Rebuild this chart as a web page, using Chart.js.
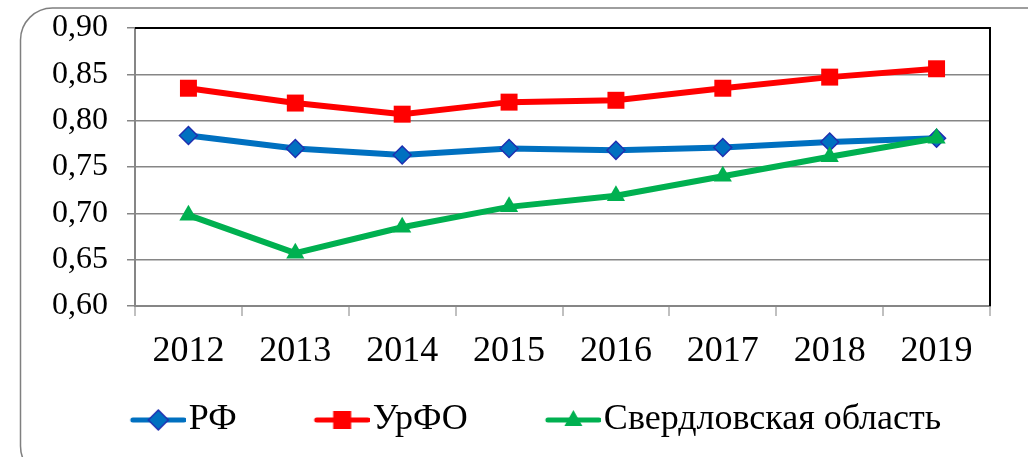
<!DOCTYPE html>
<html>
<head>
<meta charset="utf-8">
<script src="https://cdn.jsdelivr.net/npm/chart.js@4/dist/chart.umd.min.js"></script>
<style>
  html, body { margin: 0; padding: 0; background: #fff; }
  #wrap { width: 1028px; height: 457px; }
</style>
</head>
<body>
<div id="wrap"><canvas id="myChart" width="1028" height="457"></canvas></div>
<script>
// data
const years = ['2012', '2013', '2014', '2015', '2016', '2017', '2018', '2019'];
const rfValues = [0.784, 0.770, 0.763, 0.770, 0.768, 0.771, 0.777, 0.781];
const urfoValues = [0.835, 0.819, 0.807, 0.820, 0.822, 0.835, 0.847, 0.856];
const sverdValues = [0.698, 0.657, 0.685, 0.707, 0.719, 0.740, 0.761, 0.781];
const seriesNames = ['РФ', 'УрФО', 'Свердловская область'];
const yTicks = [0.60, 0.65, 0.70, 0.75, 0.80, 0.85, 0.90];

const BLUE = '#0070C0', RED = '#FF0000', GREEN = '#00B050';
const FONT = '"Liberation Serif", serif';

// legend glyph: line with marker, like the office legend
function legendIcon(color, marker) {
    const w = 108, h = 26;
    const c = document.createElement('canvas');
    c.width = w; c.height = h;
    const g = c.getContext('2d');
    const x0 = w - 55, x1 = w - 2, cy = h / 2;
    g.strokeStyle = color;
    g.lineWidth = 5;
    g.lineCap = 'round';
    g.beginPath(); g.moveTo(x0 + 2, cy); g.lineTo(x1, cy); g.stroke();
    const mx = (x0 + x1) / 2 + 1;
    g.fillStyle = color;
    if (marker === 'diamond') {
        g.beginPath();
        g.moveTo(mx, cy - 10); g.lineTo(mx + 10, cy); g.lineTo(mx, cy + 10); g.lineTo(mx - 10, cy);
        g.closePath(); g.fill();
        g.strokeStyle = '#1f2fb0'; g.lineWidth = 1.5; g.stroke();
    } else if (marker === 'square') {
        g.fillRect(mx - 9, cy - 9, 18, 18);
    } else {
        g.beginPath();
        g.moveTo(mx, cy - 10); g.lineTo(mx + 9, cy + 6); g.lineTo(mx - 9, cy + 6);
        g.closePath(); g.fill();
    }
    return c;
}

const framePlugin = {
    id: 'frame',
    beforeDraw(chart) {
        const ctx = chart.ctx;
        ctx.save();
        ctx.strokeStyle = '#7f7f7f';
        ctx.lineWidth = 1.5;
        ctx.beginPath();
        ctx.roundRect(20.5, 8, 1060, 470, 32);
        ctx.stroke();
        ctx.restore();
    },
    afterDatasetsDraw(chart) {
        // black top and right edges of the plot area
        const a = chart.chartArea, ctx = chart.ctx;
        ctx.save();
        ctx.strokeStyle = '#000';
        ctx.lineWidth = 2;
        ctx.beginPath();
        ctx.moveTo(a.left, a.top); ctx.lineTo(a.right, a.top); ctx.lineTo(a.right, a.bottom);
        ctx.stroke();
        ctx.restore();
    }
};

function buildChart() {
    Chart.defaults.font.family = FONT;
    Chart.defaults.color = '#000';
    const icons = [legendIcon(BLUE, 'diamond'), legendIcon(RED, 'square'), legendIcon(GREEN, 'triangle')];

    const ctx = document.getElementById('myChart').getContext('2d');
    window.myLineChart = new Chart(ctx, {
        type: 'line',
        data: {
            labels: years,
            datasets: [
                {
                    label: seriesNames[0], data: rfValues, order: 2,
                    borderColor: BLUE, borderWidth: 6, backgroundColor: BLUE,
                    pointStyle: 'rectRot', pointRadius: 9, pointBorderColor: '#1f2fb0', pointBorderWidth: 1.5,
                    pointBackgroundColor: BLUE, tension: 0
                },
                {
                    label: seriesNames[1], data: urfoValues, order: 1,
                    borderColor: RED, borderWidth: 6, backgroundColor: RED,
                    pointStyle: 'rect', pointRadius: 12, pointBorderWidth: 0,
                    pointBackgroundColor: RED, tension: 0
                },
                {
                    label: seriesNames[2], data: sverdValues, order: 0,
                    borderColor: GREEN, borderWidth: 6, backgroundColor: GREEN,
                    pointStyle: 'triangle', pointRadius: 10.5, pointBorderWidth: 0,
                    pointBackgroundColor: GREEN, tension: 0
                }
            ]
        },
        options: {
            responsive: false,
            animation: false,
            layout: { padding: { top: 28, right: 38, left: 44, bottom: 9 } },
            plugins: {
                tooltip: { enabled: false },
                legend: {
                    position: 'bottom',
                    labels: {
                        usePointStyle: true,
                        pointStyleWidth: 78,
                        padding: 40,
                        font: { size: 36, family: FONT },
                        color: '#000',
                        generateLabels: () => seriesNames.map((name, i) => ({
                            text: name, pointStyle: icons[i], fillStyle: 'transparent',
                            strokeStyle: 'transparent', lineWidth: 0, hidden: false, datasetIndex: i, fontColor: '#000'
                        }))
                    }
                }
            },
            scales: {
                x: {
                    offset: true,
                    grid: { offset: true, drawOnChartArea: false, drawTicks: true, tickLength: 10, color: '#c0c0c0', lineWidth: 2 },
                    border: { color: '#868686', width: 2 },
                    ticks: { font: { size: 36, family: FONT }, color: '#000', padding: 14, maxRotation: 0 },
                    afterFit: s => {
                        s.height = s.chart.height - 306 - s.chart.legend.height - 9;
                        s.paddingLeft = 0; s.paddingRight = 0;
                    }
                },
                y: {
                    min: 0.6, max: 0.9,
                    afterBuildTicks: s => { s.ticks = yTicks.map(v => ({ value: v })); },
                    grid: { color: '#868686', lineWidth: 1.5, drawTicks: true, tickLength: 8 },
                    border: { color: '#868686', width: 2 },
                    ticks: {
                        font: { size: 32, family: FONT }, color: '#000', padding: 19,
                        callback: v => v.toFixed(2).replace('.', ',')
                    },
                    afterFit: s => {
                        s.width = 91;
                        s.paddingTop = 0; s.paddingBottom = 0;
                    }
                }
            }
        },
        plugins: [framePlugin]
    });
}

Promise.all([
    document.fonts.load('36px "Liberation Serif"', 'РФ 2012'),
    document.fonts.load('32px "Liberation Serif"', '0,90')
]).then(buildChart, buildChart);
</script>
</body>
</html>
